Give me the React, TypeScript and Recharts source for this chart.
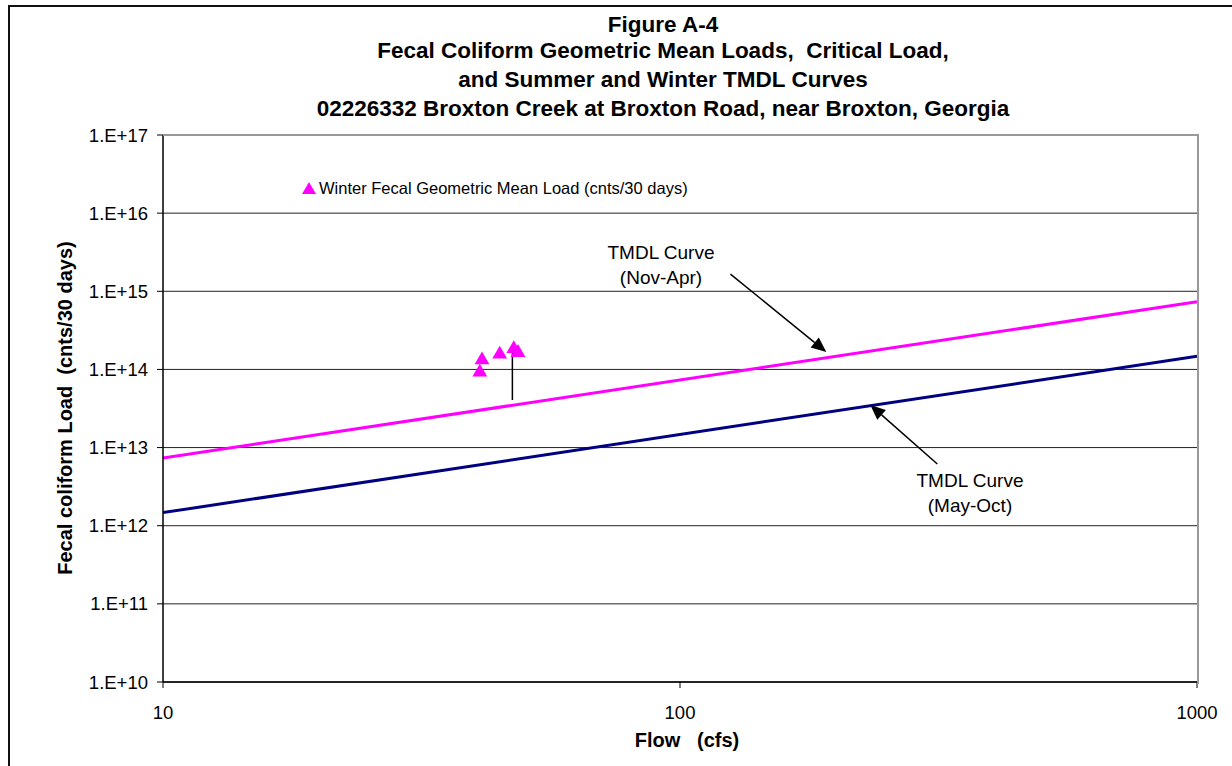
import {
  ComposedChart,
  Line,
  Scatter,
  XAxis,
  YAxis,
  ZAxis,
  CartesianGrid,
  ReferenceLine,
  Legend,
} from "recharts";

const FONT = "'Liberation Sans', Arial, sans-serif";

// axis ticks
const flowTicks = [10, 100, 1000];
const loadTicks = [1e10, 1e11, 1e12, 1e13, 1e14, 1e15, 1e16, 1e17];

// TMDL curves (cnts/30 days)
const curveFlow = [10, 1000];
const summerTmdl = [1.47e12, 1.47e14];
const winterTmdl = [7.34e12, 7.34e14];

// winter fecal geometric mean loads
const winterFlow = [41.0, 41.4, 44.8, 47.7, 48.6];
const winterLoad = [9.2e13, 1.32e14, 1.56e14, 1.84e14, 1.64e14];

const summerData = curveFlow.map((flow, i) => ({ flow, load: summerTmdl[i] }));
const winterCurveData = curveFlow.map((flow, i) => ({ flow, load: winterTmdl[i] }));
const winterPoints = winterFlow.map((flow, i) => ({ flow, load: winterLoad[i] }));

const legendLabel = "Winter Fecal Geometric Mean Load (cnts/30 days)";

function ArrowShape(props: any) {
  const { x1, y1, x2, y2 } = props;
  const dx = x2 - x1;
  const dy = y2 - y1;
  const len = Math.hypot(dx, dy) || 1;
  const ux = dx / len;
  const uy = dy / len;
  const headLen = 15;
  const half = 6.5;
  const bx = x2 - ux * headLen;
  const by = y2 - uy * headLen;
  const pts = `${x2},${y2} ${bx - uy * half},${by + ux * half} ${bx + uy * half},${by - ux * half}`;
  return (
    <g>
      <line x1={x1} y1={y1} x2={bx} y2={by} stroke="#000" strokeWidth={1.5} />
      <polygon points={pts} fill="#000" />
    </g>
  );
}

function LegendBox() {
  return (
    <div style={{ display: "flex", alignItems: "center", fontFamily: FONT }}>
      <svg width={14} height={13} style={{ marginRight: 3 }}>
        <polygon points="7,0 14,12 0,12" fill="#FF00FF" />
      </svg>
      <span style={{ fontSize: 16.5, color: "#000", whiteSpace: "nowrap", lineHeight: "19px" }}>
        {legendLabel}
      </span>
    </div>
  );
}

const titleLines = [
  { text: "Figure A-4", baseline: 33 },
  { text: "Fecal Coliform Geometric Mean Loads,  Critical Load,", baseline: 59 },
  { text: "and Summer and Winter TMDL Curves", baseline: 88 },
  { text: "02226332 Broxton Creek at Broxton Road, near Broxton, Georgia", baseline: 117 },
];

export default function App() {
  const tickStyle = { fill: "#000", fontSize: 18.5, fontFamily: FONT };
  return (
    <div
      style={{
        position: "absolute",
        left: 0,
        top: 0,
        width: 1232,
        height: 766,
        overflow: "hidden",
        background: "#fff",
        fontFamily: FONT,
      }}
    >
      {/* outer chart border */}
      <div
        style={{
          position: "absolute",
          left: 8,
          top: 5,
          width: 1400,
          height: 900,
          borderLeft: "2px solid #111",
          borderTop: "2px solid #111",
        }}
      />
      <ComposedChart
        width={1232}
        height={766}
        margin={{ top: 135, right: 35, bottom: 24, left: 83 }}
      >
        <CartesianGrid vertical={false} stroke="#222" strokeWidth={1} />
        <XAxis
          type="number"
          dataKey="flow"
          scale="log"
          domain={[10, 1000]}
          ticks={flowTicks}
          interval={0}
          height={60}
          tick={tickStyle}
          tickSize={6}
          tickMargin={18}
          axisLine={{ stroke: "#000", strokeWidth: 1.5 }}
          tickLine={{ stroke: "#000" }}
          allowDataOverflow
        />
        <YAxis
          type="number"
          dataKey="load"
          scale="log"
          domain={[1e10, 1e17]}
          ticks={loadTicks}
          interval={0}
          width={80}
          tick={tickStyle}
          tickSize={6}
          tickMargin={9}
          tickFormatter={(v: number) => `1.E+${Math.round(Math.log10(v))}`}
          axisLine={{ stroke: "#000", strokeWidth: 1.5 }}
          tickLine={{ stroke: "#000" }}
          allowDataOverflow
        />
        <ZAxis range={[95, 95]} />
        <Line
          data={winterCurveData}
          dataKey="load"
          stroke="#FF00FF"
          strokeWidth={3}
          dot={false}
          legendType="none"
          isAnimationActive={false}
        />
        <Line
          data={summerData}
          dataKey="load"
          stroke="#000080"
          strokeWidth={3}
          dot={false}
          legendType="none"
          isAnimationActive={false}
        />
        <Scatter
          name={legendLabel}
          data={winterPoints}
          shape="triangle"
          fill="#FF00FF"
          isAnimationActive={false}
        />
        <ReferenceLine
          segment={[
            { x: 47.4, y: 1.83e14 },
            { x: 47.4, y: 4.06e13 },
          ]}
          stroke="#000"
          strokeWidth={1.5}
        />
        <ReferenceLine
          segment={[
            { x: 125.2, y: 1.66e15 },
            { x: 191.9, y: 1.67e14 },
          ]}
          shape={ArrowShape}
        />
        <ReferenceLine
          segment={[
            { x: 314.6, y: 6.17e12 },
            { x: 233.4, y: 3.51e13 },
          ]}
          shape={ArrowShape}
        />
        <Legend
          layout="horizontal"
          verticalAlign="middle"
          align="center"
          wrapperStyle={{ top: 179, left: 302, width: "auto" }}
          content={() => <LegendBox />}
        />
      </ComposedChart>

      {/* plot area frame (top / right) */}
      <div
        style={{
          position: "absolute",
          left: 163,
          top: 134,
          width: 1034,
          height: 548,
          borderTop: "2px solid #999",
          borderRight: "2px solid #999",
          pointerEvents: "none",
        }}
      />

      {titleLines.map((l) => (
        <div
          key={l.text}
          style={{
            position: "absolute",
            left: 163,
            width: 1000,
            top: l.baseline - 19,
            textAlign: "center",
            fontSize: 22.5,
            lineHeight: "22.5px",
            fontWeight: "bold",
            whiteSpace: "pre",
            color: "#000",
          }}
        >
          {l.text}
        </div>
      ))}

      <div
        style={{
          position: "absolute",
          left: 65,
          top: 408,
          transform: "translate(-50%, -50%) rotate(-90deg)",
          fontSize: 20,
          fontWeight: "bold",
          whiteSpace: "pre",
          color: "#000",
        }}
      >
        {"Fecal coliform Load  (cnts/30 days)"}
      </div>

      <div
        style={{
          position: "absolute",
          left: 587,
          width: 200,
          top: 730,
          textAlign: "center",
          fontSize: 20,
          lineHeight: "20px",
          fontWeight: "bold",
          whiteSpace: "pre",
          color: "#000",
        }}
      >
        {"Flow   (cfs)"}
      </div>

      <div
        style={{
          position: "absolute",
          left: 561,
          width: 200,
          top: 240,
          textAlign: "center",
          fontSize: 19,
          lineHeight: "25px",
          color: "#000",
        }}
      >
        TMDL Curve
        <br />
        (Nov-Apr)
      </div>
      <div
        style={{
          position: "absolute",
          left: 870,
          width: 200,
          top: 468,
          textAlign: "center",
          fontSize: 19,
          lineHeight: "25px",
          color: "#000",
        }}
      >
        TMDL Curve
        <br />
        (May-Oct)
      </div>
    </div>
  );
}
